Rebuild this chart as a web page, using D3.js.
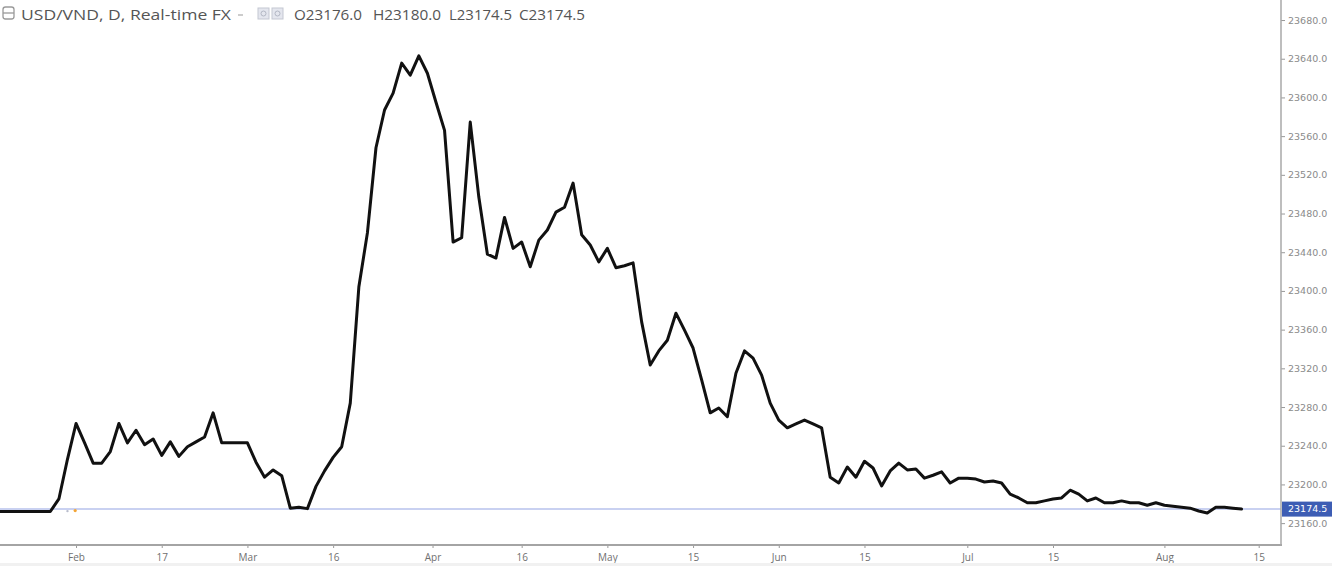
<!DOCTYPE html>
<html><head><meta charset="utf-8">
<script src="https://cdn.jsdelivr.net/npm/d3@7"></script>
<style>body{margin:0;background:#fff}svg{display:block}</style>
</head><body><svg id="c" width="1332" height="566"></svg>
<script>
// ---- data (daily closes, bar index order) ----
const prices = [
23172,23172,23172,23172,23172,23172,23172,23185,23226,23263,
23243,23222,23222,23234,23263,23243,23256,23241,23247,23230,
23244,23229,23239,23244,23249,23274,23243,23243,23243,23243,
23223,23207.5,23215,23209,23175.5,23176.5,23175,23198,23214,23228,
23239,23284,23404,23460,23548,23587,23604.5,23635.5,23623,23643,
23625,23595,23566,23450.5,23455,23574.5,23497,23438,23434,23476,
23444,23450.5,23425,23452.5,23463,23481.5,23486.5,23511.5,23458,23447.5,
23430,23444,23424,23426,23429,23368,23323.5,23338,23349,23377,
23359.5,23341,23308,23274,23279,23270,23315,23338,23330.5,23313,
23284,23266.5,23258.5,23262.5,23266.5,23262.5,23258.5,23207.5,23201.5,23218,
23207.5,23224,23217,23198.5,23214,23222,23215,23216,23206.5,23209.5,
23213,23201.5,23206.5,23206.5,23205.5,23202.5,23203.5,23201.5,23190,23186,
23181,23181,23183,23185,23186,23194,23190,23183,23186,23181,
23181,23183,23181,23181,23178.5,23181,23178.5,23177.5,23176.5,23175.5,
23172.5,23170.5,23176.5,23176.5,23175.5,23174.5
];
const xTickIndex  = [9, 19, 29, 39, 50.6, 61, 71, 81, 91, 101, 113, 123, 136, 147];
const xTickLabels = ["Feb","17","Mar","16","Apr","16","May","15","Jun","15","Jul","15","Aug","15"];
const yTicks = [23160,23200,23240,23280,23320,23360,23400,23440,23480,23520,23560,23600,23640,23680];
const lastPrice = 23174.5;
const headerTitle = "USD/VND, D, Real-time FX";
const ohlcLabels = ["O23176.0","H23180.0","L23174.5","C23174.5"];

// ---- layout ----
const W = 1332, H = 566;
const plotR = 1281, plotB = 545;
const svg = d3.select("#c");

const x = d3.scaleLinear().domain([0, 150]).range([-1.1, 1284.4]);
const y = d3.scaleLinear().domain([23137.4, 23700.7]).range([plotB, 0]);

svg.append("rect").attr("width", W).attr("height", H).attr("fill", "#fff");

svg.append("defs").append("clipPath").attr("id", "plotclip")
  .append("rect").attr("x", 0).attr("y", 0).attr("width", plotR).attr("height", plotB);

const plot = svg.append("g").attr("clip-path", "url(#plotclip)");

// last price line
plot.append("line")
  .attr("x1", 0).attr("x2", plotR)
  .attr("y1", y(lastPrice)).attr("y2", y(lastPrice))
  .attr("stroke", "#c9d1f1").attr("stroke-width", 2);

// small event markers
plot.append("circle").attr("cx", x(8)).attr("cy", y(lastPrice) + 2).attr("r", 1.2).attr("fill", "#b8bccc");
plot.append("circle").attr("cx", x(8.9)).attr("cy", y(lastPrice) + 1.5).attr("r", 1.6).attr("fill", "#f3a536");

// price line
const line = d3.line().x((d, i) => x(i)).y(d => y(d));
plot.append("path").datum(prices)
  .attr("d", line)
  .attr("fill", "none")
  .attr("stroke", "#111")
  .attr("stroke-width", 3)
  .attr("stroke-linejoin", "round")
  .attr("stroke-linecap", "round");

// ---- bottom axis ----
const xAxis = d3.axisBottom(x)
  .tickValues(xTickIndex)
  .tickFormat((d, i) => xTickLabels[i])
  .tickSize(3).tickPadding(6);
const gx = svg.append("g").attr("transform", `translate(0,${plotB})`).call(xAxis);
gx.select(".domain").remove();
gx.selectAll(".tick line").attr("stroke", "#999");
gx.selectAll(".tick text").attr("fill", "#707070")
  .style("font-family", "'Open Sans', 'DejaVu Sans', sans-serif").style("font-size", "10px");
svg.append("line").attr("x1", 0).attr("x2", plotR + 1).attr("y1", plotB).attr("y2", plotB)
  .attr("stroke", "#a4a4a4").attr("stroke-width", 2);
svg.append("rect").attr("x", 0).attr("y", 563).attr("width", W).attr("height", 3).attr("fill", "#f1f1f1");

// ---- right axis ----
const yAxis = d3.axisRight(y)
  .tickValues(yTicks)
  .tickFormat(d => d3.format(".1f")(d))
  .tickSize(4).tickPadding(3);
const gy = svg.append("g").attr("transform", `translate(${plotR},0)`).call(yAxis);
gy.select(".domain").remove();
gy.selectAll(".tick line").attr("stroke", "#999");
gy.selectAll(".tick text").attr("fill", "#8a8a8a")
  .style("font-family", "'DejaVu Sans', sans-serif").style("font-size", "9.5px");
svg.append("line").attr("x1", plotR).attr("x2", plotR).attr("y1", 0).attr("y2", plotB + 1)
  .attr("stroke", "#a8a8a8").attr("stroke-width", 1.5);

// last price label
const lp = svg.append("g").attr("transform", `translate(${plotR + 1},${y(lastPrice)})`);
lp.append("rect").attr("x", 0).attr("y", -7.5).attr("width", W - plotR).attr("height", 15).attr("fill", "#3d5db4");
lp.append("text").attr("x", 6).attr("y", 0).attr("dy", "0.35em")
  .attr("fill", "#fff").style("font-family", "'DejaVu Sans', sans-serif")
  .style("font-size", "9.5px").text(d3.format(".1f")(lastPrice));

// ---- header ----
const hdr = svg.append("g");
hdr.append("rect").attr("x", 3).attr("y", 7).attr("width", 11).attr("height", 12).attr("rx", 2.5)
  .attr("fill", "none").attr("stroke", "#9a9a9a").attr("stroke-width", 1.3);
hdr.append("line").attr("x1", 3).attr("x2", 14).attr("y1", 13).attr("y2", 13)
  .attr("stroke", "#9a9a9a").attr("stroke-width", 1.3);
const hfont = "'Open Sans', 'DejaVu Sans', sans-serif";
hdr.append("text").attr("x", 21).attr("y", 20).attr("fill", "#555")
  .style("font-family", hfont).style("font-size", "15px")
  .attr("textLength", 210).attr("lengthAdjust", "spacingAndGlyphs").text(headerTitle);
hdr.append("line").attr("x1", 238).attr("x2", 243).attr("y1", 15).attr("y2", 15)
  .attr("stroke", "#aaa").attr("stroke-width", 1.2);
[258, 272].forEach((px, k) => {
  hdr.append("rect").attr("x", px).attr("y", 8).attr("width", 11).attr("height", 11)
    .attr("fill", "#e4e6ee").attr("stroke", "#c4c7d2").attr("stroke-width", 1);
  hdr.append("circle").attr("cx", px + 5.5).attr("cy", 13.5).attr("r", 2.5)
    .attr("fill", "none").attr("stroke", "#b3b7c4").attr("stroke-width", 1);
});
const ohlcX = [294, 373, 449, 519];
const ohlcW = [68, 68, 63, 66];
ohlcLabels.forEach((t, k) => {
  hdr.append("text").attr("x", ohlcX[k]).attr("y", 20).attr("fill", "#555")
    .style("font-family", hfont).style("font-size", "15px")
    .attr("textLength", ohlcW[k]).attr("lengthAdjust", "spacingAndGlyphs").text(t);
});
</script></body></html>
